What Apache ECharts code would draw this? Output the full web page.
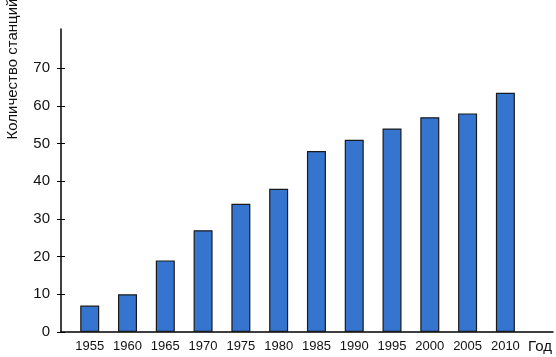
<!DOCTYPE html>
<html><head><meta charset="utf-8">
<script src="https://cdn.jsdelivr.net/npm/echarts@6/dist/echarts.min.js"></script>
<style>html,body{margin:0;padding:0;background:#fff}#c{width:556px;height:357px}</style>
</head><body><div id="c"></div>
<script>
var years = [1955, 1960, 1965, 1970, 1975, 1980, 1985, 1990, 1995, 2000, 2005, 2010];
var stations = [7, 10, 19, 27, 34, 38, 48, 51, 54, 57, 58, 63.5];
var yTicks = [0, 10, 20, 30, 40, 50, 60, 70];
var yTitle = 'Количество станций';
var xTitle = 'Год';

var chart = echarts.init(document.getElementById('c'), null, {renderer: 'canvas'});
var font = 'Liberation Sans, Arial, sans-serif';
chart.setOption({
  animation: false,
  grid: {left: 61, right: 3, top: 29, bottom: 25, containLabel: false},
  xAxis: {
    type: 'value', min: 1951.2, max: 2016.3,
    splitLine: {show: false},
    axisLine: {show: true, lineStyle: {color: '#000', width: 1.5}},
    axisTick: {show: false},
    axisLabel: {customValues: years, color: '#111', fontSize: 13, fontFamily: font, margin: 8,
      formatter: function (v) { return String(v); }},
    name: xTitle, nameLocation: 'end', nameGap: -1,
    nameTextStyle: {color: '#111', fontSize: 15, fontFamily: font, align: 'right', verticalAlign: 'top', padding: [7, 0, 0, 0]}
  },
  yAxis: [{
    type: 'value', min: 0, max: 80.4,
    splitLine: {show: false},
    axisLine: {show: true, lineStyle: {color: '#000', width: 1.5}},
    axisTick: {show: true, customValues: yTicks, length: 4, lineStyle: {color: '#000'}},
    axisLabel: {customValues: yTicks, color: '#111', fontSize: 15, fontFamily: font, margin: 11}
  }, {
    type: 'value', min: 0, max: 80.4, position: 'left',
    splitLine: {show: false},
    axisLine: {show: false},
    axisTick: {show: true, inside: true, customValues: yTicks, length: 4, lineStyle: {color: '#000'}},
    axisLabel: {show: false}
  }],
  graphic: [{
    type: 'text', x: 13, y: 69, rotation: Math.PI / 2,
    style: {text: yTitle, fill: '#111', fontSize: 15, fontFamily: font, align: 'center', verticalAlign: 'middle'}
  }],
  series: [{
    type: 'bar', barWidth: 19,
    data: years.map(function (y, i) { return [y, stations[i]]; }),
    itemStyle: {color: '#3575d0', borderColor: '#1a1a1a', borderWidth: 1.2}
  }]
});
</script></body></html>
